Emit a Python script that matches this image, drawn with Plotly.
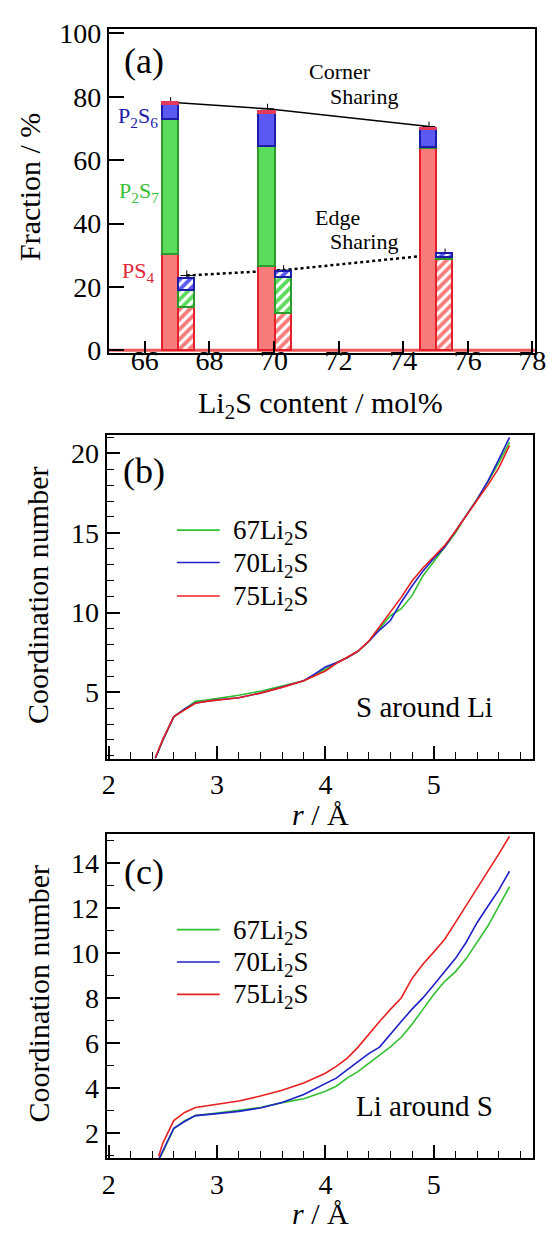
import plotly.graph_objects as go

FONT = "Liberation Serif, Times New Roman, Times, DejaVu Serif, serif"
W, H = 560, 1240

# ---------------- panel (a) data ----------------
compositions = [67, 70, 75]
main_offset = -0.2
edge_offset = 0.3
bar_width = 0.5

corner_ps4 = [30.1, 26.3, 63.6]
corner_p2s7 = [42.8, 37.9, 0.5]
corner_p2s6 = [4.7, 10.4, 5.4]
corner_other = [0.5, 0.7, 0.6]

edge_ps4 = [13.3, 11.6, 28.6]
edge_p2s7 = [5.6, 11.2, 0.6]
edge_p2s6 = [3.8, 2.0, 1.2]

corner_total = [78.3, 76.2, 70.6]
edge_total = [23.6, 25.3, 30.5]
total_err = [1.6, 1.6, 1.6]

baseline_x = [64.89, 78.08]
baseline_y = [0, 0]

a_xticks = [66, 68, 70, 72, 74, 76, 78]
a_yticks = [0, 20, 40, 60, 80, 100]

# ---------------- panel (b) data: S around Li ----------------
r_b = [2.43, 2.5, 2.6, 2.7, 2.8, 2.9, 3.0, 3.2, 3.4, 3.6, 3.8, 3.9, 4.0, 4.1,
       4.2, 4.3, 4.4, 4.5, 4.6, 4.7, 4.8, 4.9, 5.0, 5.1, 5.2, 5.3, 5.4, 5.5,
       5.6, 5.7]
cn_b_67 = [0.85, 2.0, 3.45, 3.95, 4.42, 4.5, 4.6, 4.8, 5.06, 5.38, 5.72, 6.05,
           6.44, 6.85, 7.16, 7.57, 8.18, 9.0, 9.8, 10.24, 11.06, 12.3, 13.2,
           14.1, 15.0, 16.1, 17.1, 18.2, 19.4, 20.7]
cn_b_70 = [0.85, 2.0, 3.45, 3.95, 4.32, 4.42, 4.52, 4.65, 4.94, 5.32, 5.72,
           6.13, 6.58, 6.85, 7.16, 7.57, 8.18, 8.9, 9.5, 10.65, 11.67, 12.6,
           13.4, 14.1, 15.06, 16.1, 17.1, 18.25, 19.6, 21.0]
cn_b_75 = [0.9, 2.05, 3.46, 3.9, 4.3, 4.42, 4.49, 4.65, 4.94, 5.3, 5.72, 6.03,
           6.33, 6.8, 7.16, 7.57, 8.2, 9.1, 10.03, 10.95, 11.98, 12.8, 13.5,
           14.2, 15.1, 16.1, 17.05, 18.0, 19.07, 20.5]

# ---------------- panel (c) data: Li around S ----------------
r_c = [2.46, 2.5, 2.6, 2.7, 2.8, 3.0, 3.2, 3.4, 3.6, 3.8, 4.0, 4.1, 4.2, 4.3,
       4.4, 4.5, 4.6, 4.7, 4.8, 4.9, 5.0, 5.1, 5.2, 5.3, 5.4, 5.5, 5.6, 5.7]
cn_c_67 = [0.75, 1.15, 2.17, 2.54, 2.76, 2.87, 2.98, 3.12, 3.34, 3.51, 3.85,
           4.07, 4.43, 4.72, 5.09, 5.45, 5.82, 6.25, 6.83, 7.49, 8.15, 8.73,
           9.16, 9.75, 10.48, 11.2, 12.08, 12.95]
cn_c_70 = [0.8, 1.2, 2.2, 2.5, 2.76, 2.85, 2.95, 3.1, 3.34, 3.7, 4.21, 4.43,
           4.8, 5.16, 5.52, 5.81, 6.4, 6.95, 7.5, 8.0, 8.58, 9.16, 9.75, 10.48,
           11.35, 12.08, 12.8, 13.64]
cn_c_75 = [0.95, 1.55, 2.54, 2.9, 3.12, 3.27, 3.41, 3.63, 3.89, 4.21, 4.65,
           4.95, 5.31, 5.8, 6.4, 6.95, 7.49, 8.0, 8.87, 9.5, 10.04, 10.6, 11.35,
           12.1, 12.88, 13.6, 14.4, 15.2]

series_names = ["67Li<sub>2</sub>S", "70Li<sub>2</sub>S", "75Li<sub>2</sub>S"]
series_colors = ["#30c030", "#2020c8", "#e82020"]

# ---------------- colours ----------------
PS4_FILL, PS4_LINE = "#f77b7b", "#e5202a"
P2S7_FILL, P2S7_LINE = "#5cdc5c", "#2e9a2e"
P2S6_FILL, P2S6_LINE = "#5a5af2", "#1c1ca8"
OTHER_FILL = "#e23a5a"

fig = go.Figure()

x_main = [c + main_offset for c in compositions]
x_edge = [c + edge_offset for c in compositions]

# baseline band & connecting lines (behind bars, on base axes)
fig.add_trace(go.Scatter(x=baseline_x, y=baseline_y, mode="lines",
                         line=dict(color="#ee5a5a", width=3),
                         xaxis="x", yaxis="y", showlegend=False,
                         hoverinfo="skip"))
fig.add_trace(go.Scatter(x=x_main, y=corner_total, mode="lines+markers",
                         line=dict(color="black", width=1.5),
                         marker=dict(symbol="line-ew-open", size=9,
                                     line=dict(color="black", width=1)),
                         error_y=dict(type="data", array=total_err, width=0,
                                      thickness=1, color="black"),
                         xaxis="x", yaxis="y", showlegend=False))
fig.add_trace(go.Scatter(x=x_edge, y=edge_total, mode="lines+markers",
                         line=dict(color="black", width=2.5, dash="dot"),
                         marker=dict(symbol="line-ew-open", size=9,
                                     line=dict(color="black", width=1)),
                         error_y=dict(type="data", array=total_err, width=0,
                                      thickness=1, color="black"),
                         xaxis="x", yaxis="y", showlegend=False))


def add_bar(xs, ys, fill, edge, hatched):
    kw = dict(color=fill, line=dict(color=edge, width=1.5))
    if hatched:
        kw["pattern"] = dict(shape="/", fgcolor="white", bgcolor=fill,
                             size=7, solidity=0.45, fillmode="replace")
    fig.add_trace(go.Bar(x=xs, y=ys, width=bar_width, marker=kw,
                         xaxis="x4", yaxis="y4", showlegend=False))


add_bar(x_main, corner_ps4, PS4_FILL, PS4_LINE, False)
add_bar(x_main, corner_p2s7, P2S7_FILL, P2S7_LINE, False)
add_bar(x_main, corner_p2s6, P2S6_FILL, P2S6_LINE, False)
add_bar(x_main, corner_other, OTHER_FILL, OTHER_FILL, False)
add_bar(x_edge, edge_ps4, PS4_FILL, PS4_LINE, True)
add_bar(x_edge, edge_p2s7, P2S7_FILL, P2S7_LINE, True)
add_bar(x_edge, edge_p2s6, P2S6_FILL, P2S6_LINE, True)

# panel (b)
for name, col, ys in zip(series_names, series_colors, [cn_b_67, cn_b_70, cn_b_75]):
    fig.add_trace(go.Scatter(x=r_b, y=ys, mode="lines", name=name,
                             line=dict(color=col, width=1.6),
                             xaxis="x2", yaxis="y2", showlegend=False))
# panel (c)
for name, col, ys in zip(series_names, series_colors, [cn_c_67, cn_c_70, cn_c_75]):
    fig.add_trace(go.Scatter(x=r_c, y=ys, mode="lines", name=name,
                             line=dict(color=col, width=1.6),
                             xaxis="x3", yaxis="y3", showlegend=False))


def px_x(px):
    return px / W


def px_y(py):
    return 1 - py / H


axis_common = dict(showline=True, linecolor="black", linewidth=2, mirror=True,
                   ticks="inside", tickcolor="black", tickwidth=1.5,
                   showgrid=False, zeroline=False,
                   tickfont=dict(family=FONT, size=28, color="black"))

dom_a_x = [px_x(107), px_x(545.5)]
dom_bc_x = [px_x(104.6), px_x(543.9)]

fig.update_layout(
    width=W, height=H, margin=dict(l=0, r=0, t=0, b=0),
    paper_bgcolor="white", plot_bgcolor="white",
    barmode="stack", bargap=0,
    font=dict(family=FONT, color="black"),
    showlegend=False,
    xaxis=dict(domain=dom_a_x, range=[64.89, 78.08], tickvals=a_xticks,
               ticklen=12, anchor="y", ticklabelstandoff=-18, **axis_common),
    yaxis=dict(domain=[px_y(349.3), px_y(19)], range=[-0.8, 101.5],
               tickvals=a_yticks, ticklen=15, anchor="x", **axis_common),
    xaxis4=dict(overlaying="x", range=[64.89, 78.08], visible=False,
                anchor="y4"),
    yaxis4=dict(overlaying="y", range=[-0.8, 101.5], visible=False,
                anchor="x4"),
    xaxis2=dict(domain=dom_bc_x, range=[1.98, 5.92], tickvals=[2, 3, 4, 5],
                ticklen=13, anchor="y2",
                minor=dict(dtick=0.2, ticks="inside", ticklen=7,
                           tickcolor="black", tickwidth=1.2),
                **axis_common),
    yaxis2=dict(domain=[px_y(762.7), px_y(432.7)], range=[0.83, 21.17],
                tickvals=[5, 10, 15, 20], ticklen=13, anchor="x2",
                minor=dict(dtick=1, ticks="inside", ticklen=7,
                           tickcolor="black", tickwidth=1.2),
                **axis_common),
    xaxis3=dict(domain=dom_bc_x, range=[1.98, 5.92], tickvals=[2, 3, 4, 5],
                ticklen=13, anchor="y3",
                minor=dict(dtick=0.2, ticks="inside", ticklen=7,
                           tickcolor="black", tickwidth=1.2),
                **axis_common),
    yaxis3=dict(domain=[px_y(1170), px_y(840)], range=[0.86, 15.28],
                tickvals=[2, 4, 6, 8, 10, 12, 14], ticklen=13, anchor="x3",
                minor=dict(dtick=1, ticks="inside", ticklen=7,
                           tickcolor="black", tickwidth=1.2),
                **axis_common),
)


def ann(px, py, text, size, color="black", angle=0, xanchor="center"):
    fig.add_annotation(x=px_x(px), y=px_y(py), xref="paper", yref="paper",
                       text=text, showarrow=False, textangle=angle,
                       xanchor=xanchor, yanchor="middle",
                       font=dict(family=FONT, size=size, color=color))


# manual legends for (b) and (c)
legend_rows_b = [530, 563, 597]
legend_rows_c = [937, 970, 1003]
for rows in (legend_rows_b, legend_rows_c):
    for name, col, py in zip(series_names, series_colors, rows):
        fig.add_shape(type="line", xref="paper", yref="paper",
                      x0=px_x(177), x1=px_x(221), y0=px_y(py), y1=px_y(py),
                      line=dict(color=col, width=1.6))
        ann(233, py + 2, name, 27, xanchor="left")

# panel (a) texts
ann(143, 52, "(a)", 36)
ann(345, 63, "Corner", 22)
ann(370, 88, "Sharing", 22)
ann(342, 211, "Edge", 22)
ann(370, 236, "Sharing", 22)
ann(137, 109, "P<sub>2</sub>S<sub>6</sub>", 22, P2S6_LINE)
ann(138, 185, "P<sub>2</sub>S<sub>7</sub>", 22, "#38c038")
ann(137, 267, "PS<sub>4</sub>", 22, "#e02838")
ann(25, 180, "Fraction / %", 30, angle=-90)
ann(325, 402, "Li<sub>2</sub>S content / mol%", 30)

# panel (b) texts
ann(143, 470, "(b)", 36)
ann(432, 710, "S around Li", 29)
ann(34, 597, "Coordination number", 30, angle=-90)
ann(325, 820, "<i>r</i> / Å", 30)

# panel (c) texts
ann(143, 878, "(c)", 36)
ann(432, 1117, "Li around S", 29)
ann(34, 1003, "Coordination number", 30, angle=-90)
ann(325, 1226, "<i>r</i> / Å", 30)

fig.write_html("out.html")
